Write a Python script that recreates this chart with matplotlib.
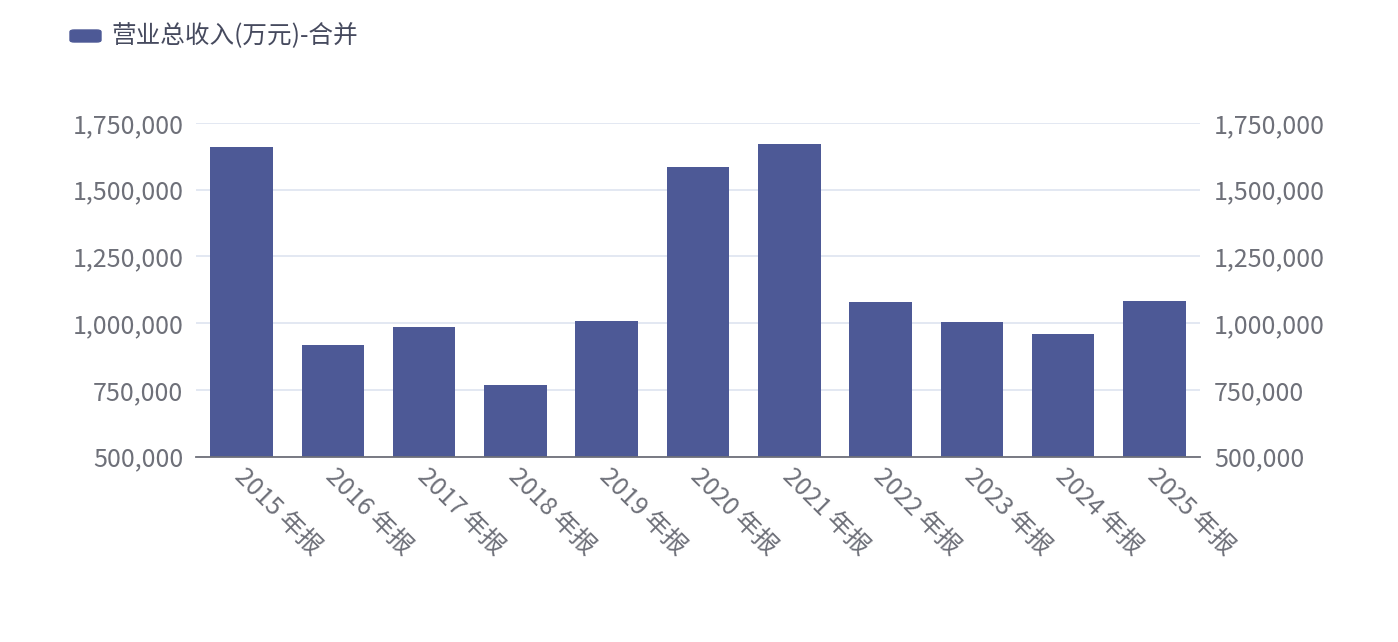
import matplotlib
matplotlib.use("Agg")
import matplotlib.pyplot as plt
import matplotlib.transforms as mtransforms
from matplotlib.ticker import FuncFormatter
from matplotlib.patches import FancyBboxPatch

plt.rcParams['font.family'] = ['Noto Sans CJK SC', 'DejaVu Sans']

# Data
years = ["2015 年报", "2016 年报", "2017 年报", "2018 年报", "2019 年报", "2020 年报",
         "2021 年报", "2022 年报", "2023 年报", "2024 年报", "2025 年报"]
revenue = [1658900, 916800, 984300, 769100, 1006000, 1586200,
           1672400, 1078000, 1004100, 959100, 1084000]
yticks = [500000, 750000, 1000000, 1250000, 1500000, 1750000]
series_name = "营业总收入(万元)-合并"

bar_color = "#4d5996"
text_color = "#6e7079"
grid_color = "#e0e6f1"
fs = 18

fig = plt.figure(figsize=(13.98, 6.42), dpi=100)
ax = fig.add_axes([196/1398, 1-456.5/642, 1004/1398, 333.5/642])

x = list(range(len(years)))
ax.bar(x, revenue, width=0.686, color=bar_color, zorder=3)
ax.set_xlim(-0.5, len(years)-0.5)
ax.set_ylim(yticks[0], yticks[-1])
ax.set_yticks(yticks)
fmt = FuncFormatter(lambda v, p: f"{int(v):,}")
ax.yaxis.set_major_formatter(fmt)
ax.grid(axis='y', color=grid_color, lw=1.3, zorder=0)
for s in ['top', 'right', 'left']:
    ax.spines[s].set_visible(False)
ax.spines['bottom'].set_color(text_color)
ax.spines['bottom'].set_linewidth(1.3)
ax.spines['bottom'].set_zorder(4)
ax.tick_params(axis='y', length=0, pad=9, labelsize=fs, labelcolor=text_color)
ax.tick_params(axis='x', length=0, pad=5, labelsize=fs, labelcolor=text_color)
ax.set_xticks(x)
ax.set_xticklabels(years, rotation=-45, ha='left', va='top', rotation_mode='anchor')
shift = mtransforms.ScaledTranslation(6/100, 0, fig.dpi_scale_trans)
for lbl in ax.get_xticklabels():
    lbl.set_transform(lbl.get_transform() + shift)

ax2 = ax.twinx()
ax2.set_ylim(yticks[0], yticks[-1])
ax2.set_yticks(yticks)
ax2.yaxis.set_major_formatter(fmt)
for s in ['top', 'right', 'left', 'bottom']:
    ax2.spines[s].set_visible(False)
ax2.tick_params(axis='y', length=0, pad=10, labelsize=fs, labelcolor=text_color)

# legend
fig.patches.append(FancyBboxPatch((70/1398, 1-42/642), 31/1398, 12/642,
                                  boxstyle="round,pad=0,rounding_size=0.003",
                                  transform=fig.transFigure, color=bar_color))
fig.text(111/1398, 1-36/642, series_name, fontsize=17.7, color="#464a5e", va='center', ha='left')

fig.savefig("out.png", dpi=100)
